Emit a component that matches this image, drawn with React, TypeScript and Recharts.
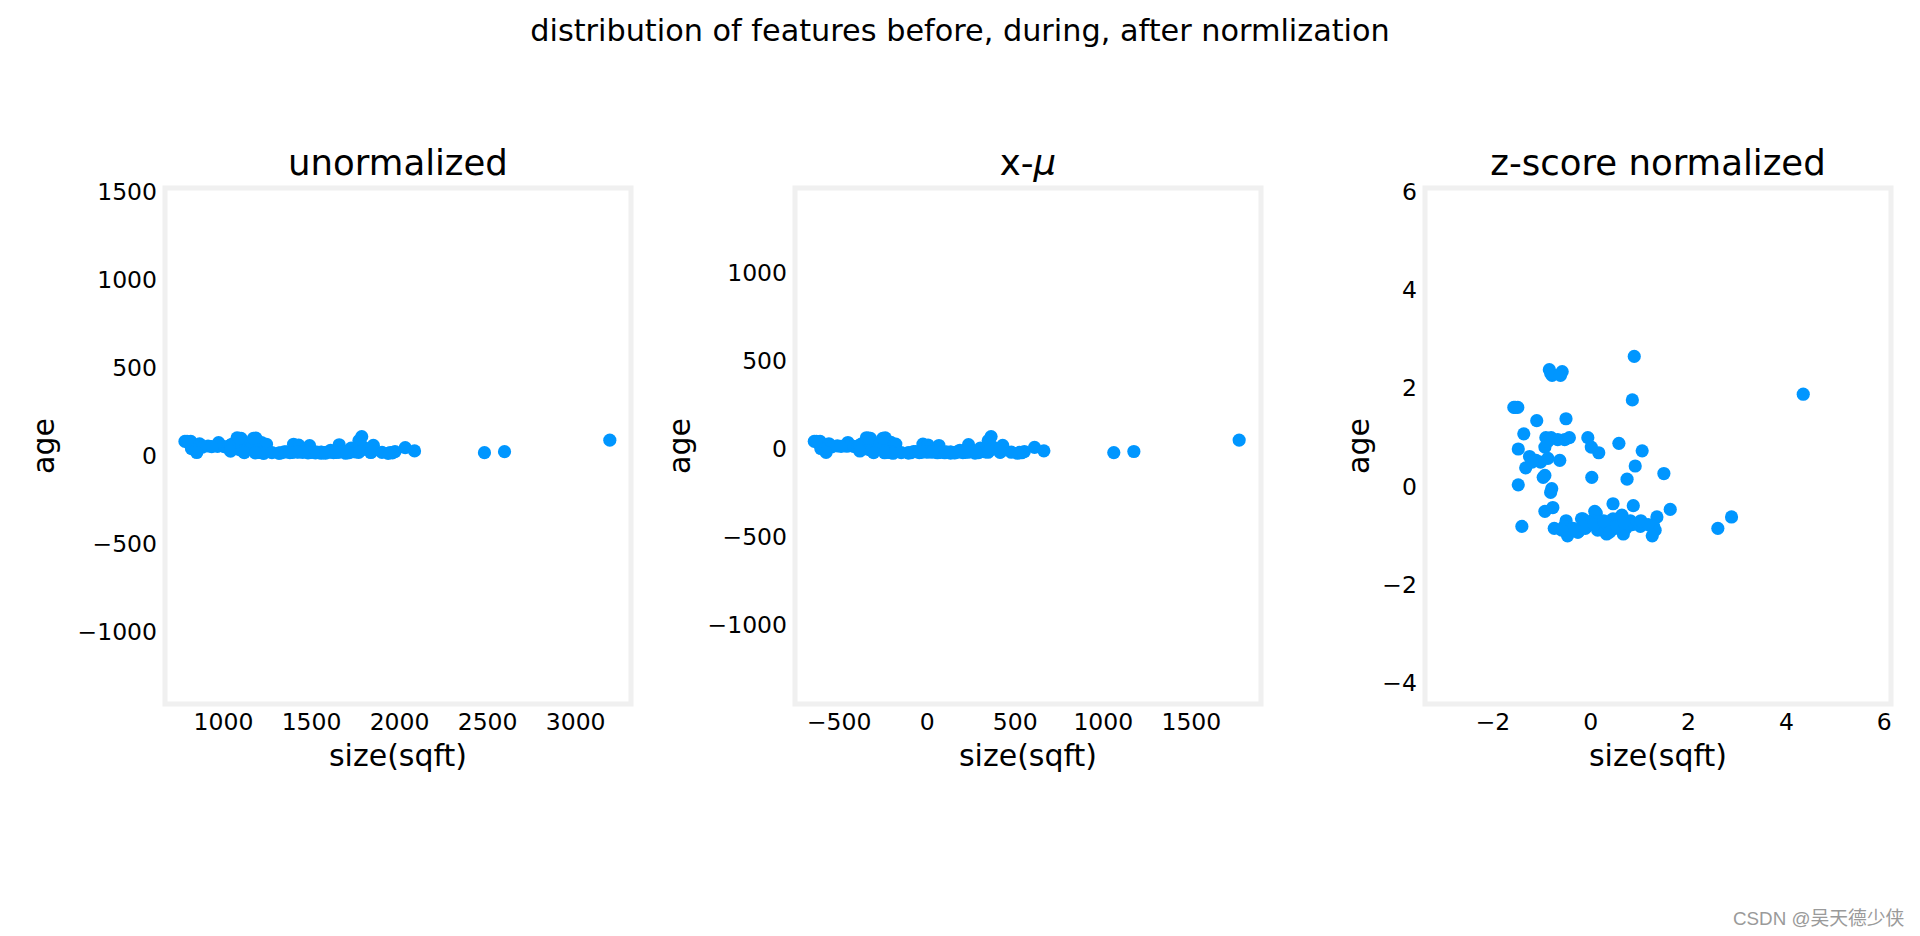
import { ScatterChart, Scatter, XAxis, YAxis, ReferenceArea } from 'recharts'

// house data: size in sqft, age in years
const sizes = [
  1785, 1077, 1100, 1184, 1769, 781, 814, 972, 1216, 864, 3194,
  1048, 1092, 1147, 1205, 1244, 1040, 1065,
  1398, 1427, 1489, 1657, 1851, 818,
  912, 966, 880, 1004, 1065, 1164, 933,
  1793, 2032, 1026, 1040, 1431, 1725, 818, 1097, 1088,
  1608, 1777, 2085, 1040, 1106, 848, 2482, 2596,
  1118, 1217, 1200, 1220, 1229, 1345, 1328, 1314, 1316,
  1456, 1468, 1357, 1430, 1419, 1497, 1554, 1557, 1555, 1593, 1600, 1608, 1652,
  1660, 1682, 1694, 1752, 1768, 1836, 1840, 1974, 1959, 1947, 1935,
  1522, 1480, 1377, 1625, 1715, 1275, 1575,
  793, 1089, 1170,
  1180, 1390, 1450, 1530, 1580, 1640, 1700, 1900,
]
const ages = [
  107, 100, 97, 99, 84, 80, 80, 73, 74, 66, 87,
  64, 64, 63, 63, 64, 59, 62,
  64, 59, 56, 61, 57, 58,
  54, 52, 48, 51, 53, 52, 51,
  49, 45, 43, 44, 43, 42, 39, 37, 35,
  29, 28, 26, 25, 27, 17, 16, 22,
  16, 20, 17, 15, 12, 21, 15, 14, 14,
  25, 24, 21, 20, 19, 17, 19, 18, 13, 20, 20, 21, 21,
  19, 23, 13, 20, 18, 17, 20, 22, 15, 17, 12,
  15, 15, 16, 16, 16, 16, 16,
  80, 98, 97,
  15, 17, 18, 20, 14, 17, 19, 18,
]

const panelTitles = ['unormalized', 'x-μ', 'z-score normalized']
const xLabel = 'size(sqft)'
const yLabel = 'age'
const supTitle = 'distribution of features before, during, after normlization'

const xTicks1 = [1000, 1500, 2000, 2500, 3000]
const yTicks1 = [-1000, -500, 0, 500, 1000, 1500]
const xTicks2 = [-500, 0, 500, 1000, 1500]
const yTicks2 = [-1000, -500, 0, 500, 1000]
const xTicks3 = [-2, 0, 2, 4, 6]
const yTicks3 = [-4, -2, 0, 2, 4, 6]

const mean = (a: number[]) => a.reduce((s, v) => s + v, 0) / a.length
const std = (a: number[]) => {
  const m = mean(a)
  return Math.sqrt(mean(a.map((v) => (v - m) ** 2)))
}

const muS = mean(sizes)
const muA = mean(ages)
const sdS = std(sizes)
const sdA = std(ages)

const rawData = sizes.map((s, i) => ({ x: s, y: ages[i] }))
const centeredData = sizes.map((s, i) => ({ x: s - muS, y: ages[i] - muA }))
const zData = sizes.map((s, i) => ({ x: (s - muS) / sdS, y: (ages[i] - muA) / sdA }))

const FONT = 'DejaVu Sans'
const BLUE = '#0096ff'
const fmt = (v: number) => String(v).replace('-', '\u2212')
const tickStyle = { fontSize: 23.5, fill: '#000', fontFamily: FONT }

const Dot = (p: any) => <circle cx={p.cx} cy={p.cy} r={6.6} fill={BLUE} />

type PanelProps = {
  left: number
  data: { x: number; y: number }[]
  xDomain: [number, number]
  yDomain: [number, number]
  xTicks: number[]
  yTicks: number[]
}

function Panel({ left, data, xDomain, yDomain, xTicks, yTicks }: PanelProps) {
  return (
    <div style={{ position: 'absolute', left: left - 100, top: 178 }}>
      <ScatterChart width={576} height={586} margin={{ top: 10, right: 10, bottom: 0, left: 20 }}>
        <XAxis
          type="number"
          dataKey="x"
          domain={xDomain}
          ticks={xTicks}
          allowDataOverflow
          axisLine={false}
          tickLine={false}
          tickSize={0}
          tickMargin={9.5}
          height={60}
          tick={tickStyle}
          tickFormatter={fmt}
        />
        <YAxis
          type="number"
          dataKey="y"
          domain={yDomain}
          ticks={yTicks}
          allowDataOverflow
          axisLine={false}
          tickLine={false}
          tickSize={0}
          tickMargin={8}
          width={80}
          tick={tickStyle}
          tickFormatter={fmt}
        />
        <ReferenceArea
          x1={xDomain[0]}
          x2={xDomain[1]}
          y1={yDomain[0]}
          y2={yDomain[1]}
          fill="none"
          fillOpacity={0}
          stroke="#f0f0f0"
          strokeWidth={5}
        />
        <Scatter data={data} fill={BLUE} shape={Dot} isAnimationActive={false} />
      </ScatterChart>
    </div>
  )
}

const panelLefts = [165, 795, 1425]
const ageX = [54, 690, 1369]

export default function App() {
  return (
    <div style={{ position: 'absolute', left: 0, top: 0, width: 1920, height: 936, background: '#fff' }}>
      <Panel left={panelLefts[0]} data={rawData} xDomain={[667.7, 3314.3]} yDomain={[-1412, 1520]} xTicks={xTicks1} yTicks={yTicks1} />
      <Panel left={panelLefts[1]} data={centeredData} xDomain={[-751, 1895.6]} yDomain={[-1451, 1481]} xTicks={xTicks2} yTicks={yTicks2} />
      <Panel left={panelLefts[2]} data={zData} xDomain={[-3.39, 6.14]} yDomain={[-4.44, 6.08]} xTicks={xTicks3} yTicks={yTicks3} />
      <svg width={1920} height={936} style={{ position: 'absolute', left: 0, top: 0, pointerEvents: 'none' }}>
        <text x={960} y={41} textAnchor="middle" fontFamily={FONT} fontSize={30.3} fill="#000">
          {supTitle}
        </text>
        {panelLefts.map((l, i) => (
          <g key={i}>
            <text x={l + 233} y={175} textAnchor="middle" fontFamily={FONT} fontSize={35.5} fill="#000">
              {i === 1 ? (
                <>
                  x-<tspan fontStyle="italic">μ</tspan>
                </>
              ) : (
                panelTitles[i]
              )}
            </text>
            <text x={l + 233} y={766} textAnchor="middle" fontFamily={FONT} fontSize={30} fill="#000">
              {xLabel}
            </text>
            <text
              x={ageX[i]}
              y={446}
              textAnchor="middle"
              fontFamily={FONT}
              fontSize={30}
              fill="#000"
              transform={`rotate(-90 ${ageX[i]} 446)`}
            >
              {yLabel}
            </text>
          </g>
        ))}
        <text x={1733} y={925} fontFamily="'Liberation Sans', 'Noto Sans CJK SC'" fontSize={18.8} fill="#9a9a9a">
          CSDN @吴天德少侠
        </text>
      </svg>
    </div>
  )
}
